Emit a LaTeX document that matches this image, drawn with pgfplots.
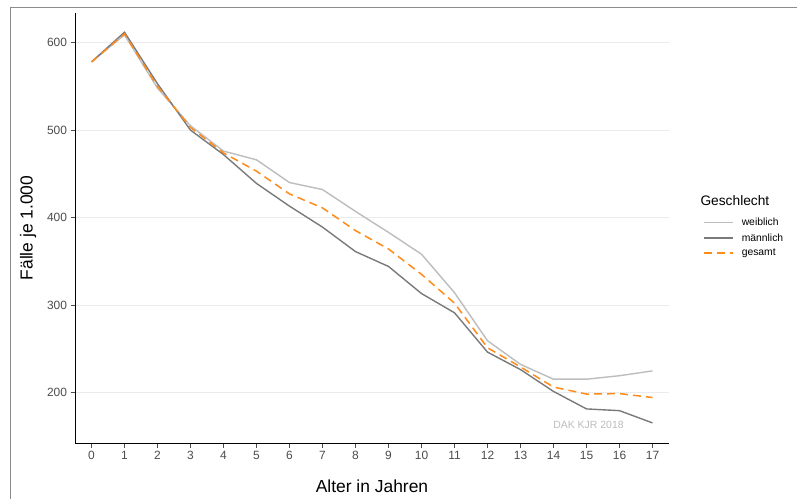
\documentclass[border=0pt]{standalone}
\usepackage{fontspec}
\setmainfont{Liberation Sans}
\usepackage{pgfplots}
\pgfplotsset{compat=1.18}
\usepackage{pgfplotstable}
\definecolor{wcol}{HTML}{BDBDBD}
\definecolor{mcol}{HTML}{7A7A7A}
\definecolor{gcol}{HTML}{FF8C1A}
\definecolor{gridc}{HTML}{EBEBEB}
\definecolor{tickc}{HTML}{4D4D4D}
\definecolor{framec}{HTML}{8C8C8C}

\pgfplotstableread{
x w m g
0 578 578 578
1 609 612 610
2 548 553 550
3 505 500 503
4 476 472 474
5 466 439 453
6 440 413 427
7 432 389 411
8 407 361 385
9 383 344 364
10 358 313 335
11 314 291 302
12 259 246 251
13 232 226 229
14 215 201 206
15 215 181 198
16 219 179 198.5
17 224.5 165 194
}\datatable

\begin{document}
\begin{tikzpicture}
\useasboundingbox (0,0) rectangle (797bp,499bp);
\fill[white] (0,0) rectangle (797bp,499bp);
\begin{axis}[
  at={(75bp,56bp)}, anchor=south west,
  scale only axis, width=594bp, height=430bp,
  xmin=-0.5, xmax=17.5, ymin=142, ymax=634,
  axis x line*=bottom, axis y line*=left,
  axis line style={black, line width=0.8bp},
  xtick={0,...,17}, ytick={200,300,400,500,600},
  tick align=outside, major tick length=4.5bp,
  tick style={tickc, line width=0.8bp},
  ymajorgrids, grid style={gridc, line width=0.8bp},
  ticklabel style={font=\fontsize{12}{14}\selectfont, text=tickc},
  /pgf/number format/assume math mode=true,
  /pgf/number format/1000 sep={},
  xlabel={Alter in Jahren}, ylabel={Fälle je 1.000},
  label style={font=\fontsize{17.5}{20}\selectfont},
  xlabel style={yshift=-14bp},
  ylabel style={yshift=4bp},
  legend style={draw=white, fill=white, at={(rel axis cs:1.0565,0.527)}, anchor=north west,
    font=\fontsize{10.4}{12}\selectfont, row sep=3.5bp, inner sep=0pt,
    nodes={inner sep=1.5bp}},
  legend cell align=left,
  legend image code/.code={\draw[line width=1.5bp,#1] (0bp,0bp) -- (29bp,0bp);},
]
\addplot[wcol, line width=1.4bp] table[x=x,y=w] {\datatable};
\addlegendentry{\hspace{7bp}weiblich}
\addplot[mcol, line width=1.4bp] table[x=x,y=m] {\datatable};
\addlegendentry{\hspace{7bp}männlich}
\addplot[gcol, line width=1.5bp, dash pattern=on 8bp off 5bp] table[x=x,y=g] {\datatable};
\addlegendentry{\hspace{7bp}gesamt}
\node[text=wcol, font=\fontsize{10.5}{12}\selectfont] at (axis cs:15.06,163) {DAK KJR 2018};
\end{axis}
\draw[framec, line width=1bp] (10bp,0bp) -- (10bp,491.5bp) -- (797bp,491.5bp);
\node[anchor=west, font=\fontsize{13.8}{16}\selectfont] at (697bp,298bp) {Geschlecht};
\end{tikzpicture}
\end{document}
